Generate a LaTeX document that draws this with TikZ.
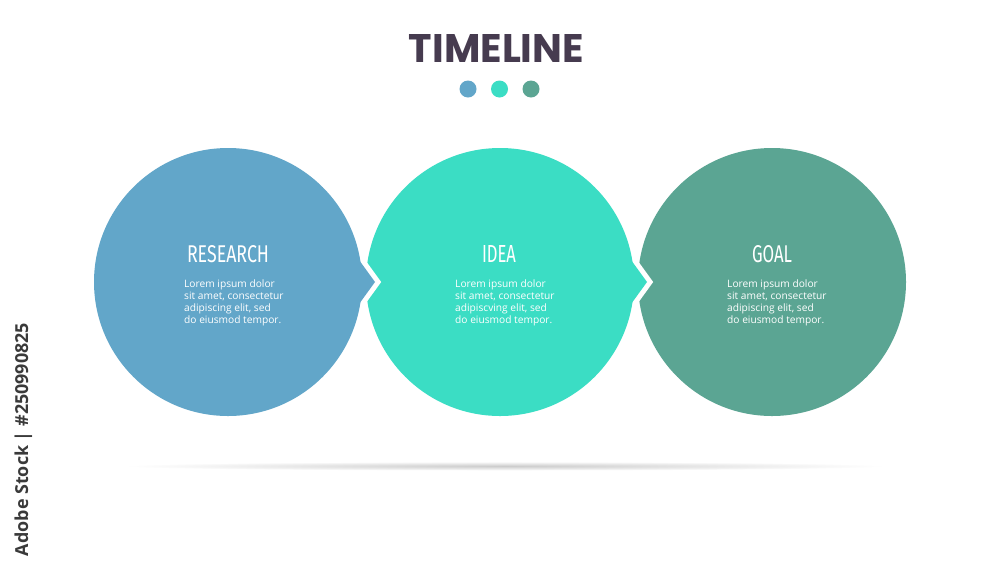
\documentclass[tikz,border=0pt]{standalone}
\usepackage{fontspec}
\setmainfont{Open Sans}
\newfontfamily\titlefont{Poppins}
\newfontfamily\headfont{Fira Sans}
\newfontfamily\bodyfont{Open Sans}
\definecolor{cblue}{HTML}{62A6C9}
\definecolor{cturq}{HTML}{3BDDC4}
\definecolor{cgreen}{HTML}{5BA593}
\definecolor{ctitle}{HTML}{463B4F}
\definecolor{wmgray}{HTML}{3A3A3A}
\tikzset{
  gapline/.style={draw=white, line width=10pt, line join=miter},
  headtext/.style={text=white, inner sep=0pt, anchor=base, font=\headfont},
  bodytext/.style={text=white, inner sep=0pt, anchor=north west, align=left,
    font=\bodyfont\fontsize{10.2pt}{12pt}\selectfont},
  dotmark/.style={radius=8.5}
}
\begin{document}
\begin{tikzpicture}[x=1pt,y=-1pt]
\useasboundingbox[fill=white] (0,0) rectangle (1000,563);
% shadow
\shade[inner color=black!20, outer color=white] (505,466) ellipse (380 and 4.5);
% named centres
\coordinate (cR) at (228,282);
\coordinate (cI) at (500,282);
\coordinate (cG) at (772,282);
% goal circle
\fill[cgreen] (cG) circle (134);
% idea circle with arrow
\path[gapline] (cI) circle (134) (618,242) -- (647,282) -- (618,322);
\fill[cturq] (cI) circle (134);
\fill[cturq] (618,242) -- (647,282) -- (618,322) -- cycle;
% research circle with arrow
\path[gapline] (cR) circle (134) (346,242) -- (375,282) -- (346,322);
\fill[cblue] (cR) circle (134);
\fill[cblue] (346,242) -- (375,282) -- (346,322) -- cycle;
% title and dots
\node[text=ctitle, inner sep=0pt, anchor=base, font=\titlefont\bfseries] (title) at (496.5,62) {\resizebox{175pt}{28pt}{TIMELINE}};
\fill[cblue] (468,89) circle[dotmark];
\fill[cturq] (499.5,89) circle[dotmark];
\fill[cgreen] (531,89) circle[dotmark];
% headings
\node[headtext] (hR) at (228,262) {\resizebox{82pt}{17pt}{RESEARCH}};
\node[headtext] (hI) at (499,262) {\resizebox{34pt}{17pt}{IDEA}};
\node[headtext] (hG) at (772,262) {\resizebox{40pt}{17pt}{GOAL}};
% bodies
\node[bodytext] (bR) at (184,280) {Lorem ipsum dolor\\sit amet, consectetur\\adipiscing elit, sed\\do eiusmod tempor.};
\node[bodytext] (bI) at (455,280) {Lorem ipsum dolor\\sit amet, consectetur\\adipiscving elit, sed\\do eiusmod tempor.};
\node[bodytext] (bG) at (727,280) {Lorem ipsum dolor\\sit amet, consectetur\\adipiscing elit, sed\\do eiusmod tempor.};
% vertical stock label
\node[rotate=90, anchor=base, inner sep=0pt, text=wmgray, font=\bodyfont\bfseries] (stock) at (28,439.5) {\resizebox{233pt}{!}{Adobe Stock | \#250990825}};
\end{tikzpicture}
\end{document}
